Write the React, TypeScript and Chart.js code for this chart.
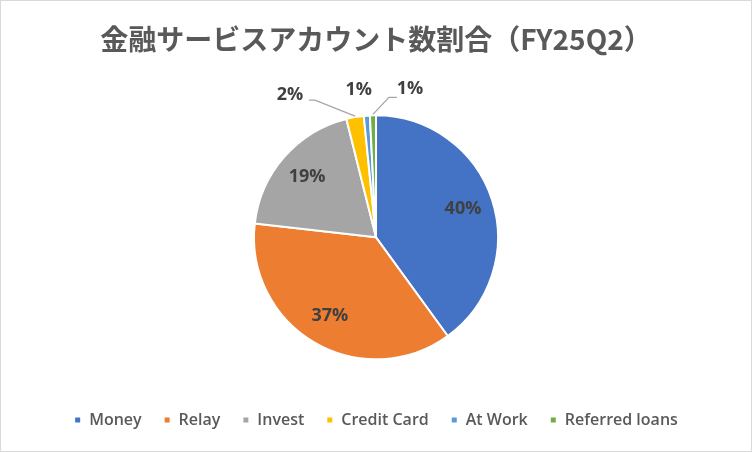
import React, { useEffect, useRef } from "react";
import { Chart, registerables } from "chart.js";

Chart.register(...registerables);

const categories = ["Money", "Relay", "Invest", "Credit Card", "At Work", "Referred loans"];
const shares = [40.0, 36.8, 19.3, 2.3, 0.8, 0.8];
const colors = ["#4472C4", "#ED7D31", "#A5A5A5", "#FFC000", "#5B9BD5", "#70AD47"];
const titleText = "金融サービスアカウント数割合（FY25Q2）";

// label placement styles for small slices (offsets relative to slice edge)
const outsideLabels: Record<number, { dx: number; dy: number; line?: number[][] }> = {
  3: { dx: -65, dy: -22, line: [[-40, -17], [-46, -17]] },
  4: { dx: -8, dy: -26 },
  5: { dx: 37, dy: -26, line: [[16, -18], [24, -18]] },
};

const framePlugin = {
  id: "frame",
  afterDraw(chart: any) {
    const { ctx, width, height } = chart;
    ctx.save();
    ctx.strokeStyle = "#D9D9D9";
    ctx.lineWidth = 1;
    ctx.strokeRect(0.5, 0.5, width - 1, height - 1);
    ctx.restore();
  },
};

const labelPlugin = {
  id: "pctLabels",
  afterDatasetsDraw(chart: any) {
    const { ctx } = chart;
    const meta = chart.getDatasetMeta(0);
    const data = chart.data.datasets[0].data as number[];
    const total = data.reduce((a, b) => a + b, 0);
    ctx.save();
    ctx.font = "bold 18px 'Open Sans'";
    ctx.fillStyle = "#404040";
    ctx.textAlign = "center";
    ctx.textBaseline = "middle";
    meta.data.forEach((arc: any, i: number) => {
      const p = arc.getProps(["x", "y", "startAngle", "endAngle", "outerRadius"], true);
      const mid = (p.startAngle + p.endAngle) / 2;
      const txt = Math.round((data[i] / total) * 100) + "%";
      const o = outsideLabels[i];
      if (!o) {
        const r = p.outerRadius * 0.75;
        ctx.fillText(txt, p.x + Math.cos(mid) * r, p.y + Math.sin(mid) * r);
      } else {
        const ex = p.x + Math.cos(mid) * p.outerRadius;
        const ey = p.y + Math.sin(mid) * p.outerRadius;
        if (o.line) {
          ctx.save();
          ctx.strokeStyle = "#A6A6A6";
          ctx.lineWidth = 1.3;
          ctx.beginPath();
          ctx.moveTo(ex, ey - 1);
          o.line.forEach((pt) => ctx.lineTo(ex + pt[0], ey + pt[1]));
          ctx.stroke();
          ctx.restore();
        }
        ctx.fillText(txt, ex + o.dx, ey + o.dy);
      }
    });
    ctx.restore();
  },
};

export default function App() {
  const ref = useRef<HTMLCanvasElement>(null);
  useEffect(() => {
    document.body.style.margin = "0";
    const chart = new Chart(ref.current!, {
      type: "pie",
      data: {
        labels: categories,
        datasets: [
          {
            data: shares,
            backgroundColor: colors,
            borderColor: "#FFFFFF",
            borderWidth: 2,
            radius: 122,
          },
        ],
      },
      options: {
        animation: false,
        responsive: false,
        devicePixelRatio: 1,
        layout: { padding: { top: 0, bottom: 14, left: 0, right: 0 } },
        plugins: {
          title: {
            display: true,
            text: titleText,
            color: "#595959",
            font: { family: "'Noto Sans CJK JP'", size: 28, weight: "bold" },
            padding: { top: 23, bottom: 28 },
          },
          legend: {
            position: "bottom",
            labels: {
              boxWidth: 7,
              boxHeight: 7,
              color: "#595959",
              padding: 22,
              font: { family: "'Open Sans'", size: 16, weight: "600" },
            },
          },
          tooltip: { enabled: false },
        },
      },
      plugins: [labelPlugin, framePlugin],
    });
    return () => chart.destroy();
  }, []);
  return (
    <div style={{ position: "absolute", left: 0, top: 0, width: 752, height: 452, background: "#fff" }}>
      <canvas ref={ref} width={752} height={452} />
    </div>
  );
}
